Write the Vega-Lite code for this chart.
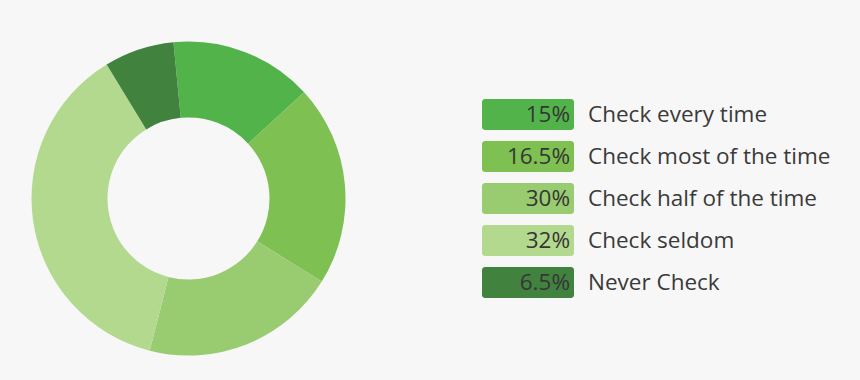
{
  "$schema": "https://vega.github.io/schema/vega-lite/v6.json",
  "background": "#f7f7f7",
  "padding": {"left": 0, "top": 17, "right": 30, "bottom": 0},
  "config": {"view": {"stroke": null}, "font": "Open Sans"},
  "data": {"values": [
    {"order": 1, "pct": "15%", "label": "Check every time", "share": 14.7},
    {"order": 2, "pct": "16.5%", "label": "Check most of the time", "share": 20.7},
    {"order": 3, "pct": "30%", "label": "Check half of the time", "share": 20.1},
    {"order": 4, "pct": "32%", "label": "Check seldom", "share": 37.3},
    {"order": 5, "pct": "6.5%", "label": "Never Check", "share": 7.2}
  ]},
  "spacing": 105,
  "center": true,
  "hconcat": [
    {
      "width": 377,
      "height": 363,
      "mark": {"type": "arc", "radius": 157, "radius2": 81},
      "encoding": {
        "theta": {"field": "share", "type": "quantitative", "stack": true, "scale": {"range": [-0.096, 6.1872]}},
        "order": {"field": "order", "type": "quantitative"},
        "color": {
          "field": "label", "type": "nominal", "legend": null,
          "scale": {
            "domain": ["Check every time", "Check most of the time", "Check half of the time", "Check seldom", "Never Check"],
            "range": ["#52b34a", "#7ec051", "#99cc70", "#b3d98f", "#41823f"]
          }
        }
      }
    },
    {
      "width": 92,
      "height": 210,
      "encoding": {
        "y": {"field": "label", "type": "nominal", "sort": {"field": "order"}, "axis": null,
              "scale": {"paddingInner": 0.262, "paddingOuter": 0.131}}
      },
      "layer": [
        {
          "mark": {"type": "rect", "cornerRadius": 3},
          "encoding": {
            "x": {"value": 0},
            "x2": {"value": "width"},
            "color": {
              "field": "label", "type": "nominal", "legend": null,
              "scale": {
                "domain": ["Check every time", "Check most of the time", "Check half of the time", "Check seldom", "Never Check"],
                "range": ["#52b34a", "#7ec051", "#99cc70", "#b3d98f", "#41823f"]
              }
            }
          }
        },
        {
          "mark": {"type": "text", "align": "right", "baseline": "middle", "dx": -4, "fontSize": 22.5, "color": "#363636"},
          "encoding": {"x": {"value": "width"}, "text": {"field": "pct"}}
        },
        {
          "mark": {"type": "text", "align": "left", "baseline": "middle", "dx": 14, "fontSize": 22.5, "color": "#3a3a3a"},
          "encoding": {"x": {"value": "width"}, "text": {"field": "label"}}
        }
      ]
    }
  ]
}
